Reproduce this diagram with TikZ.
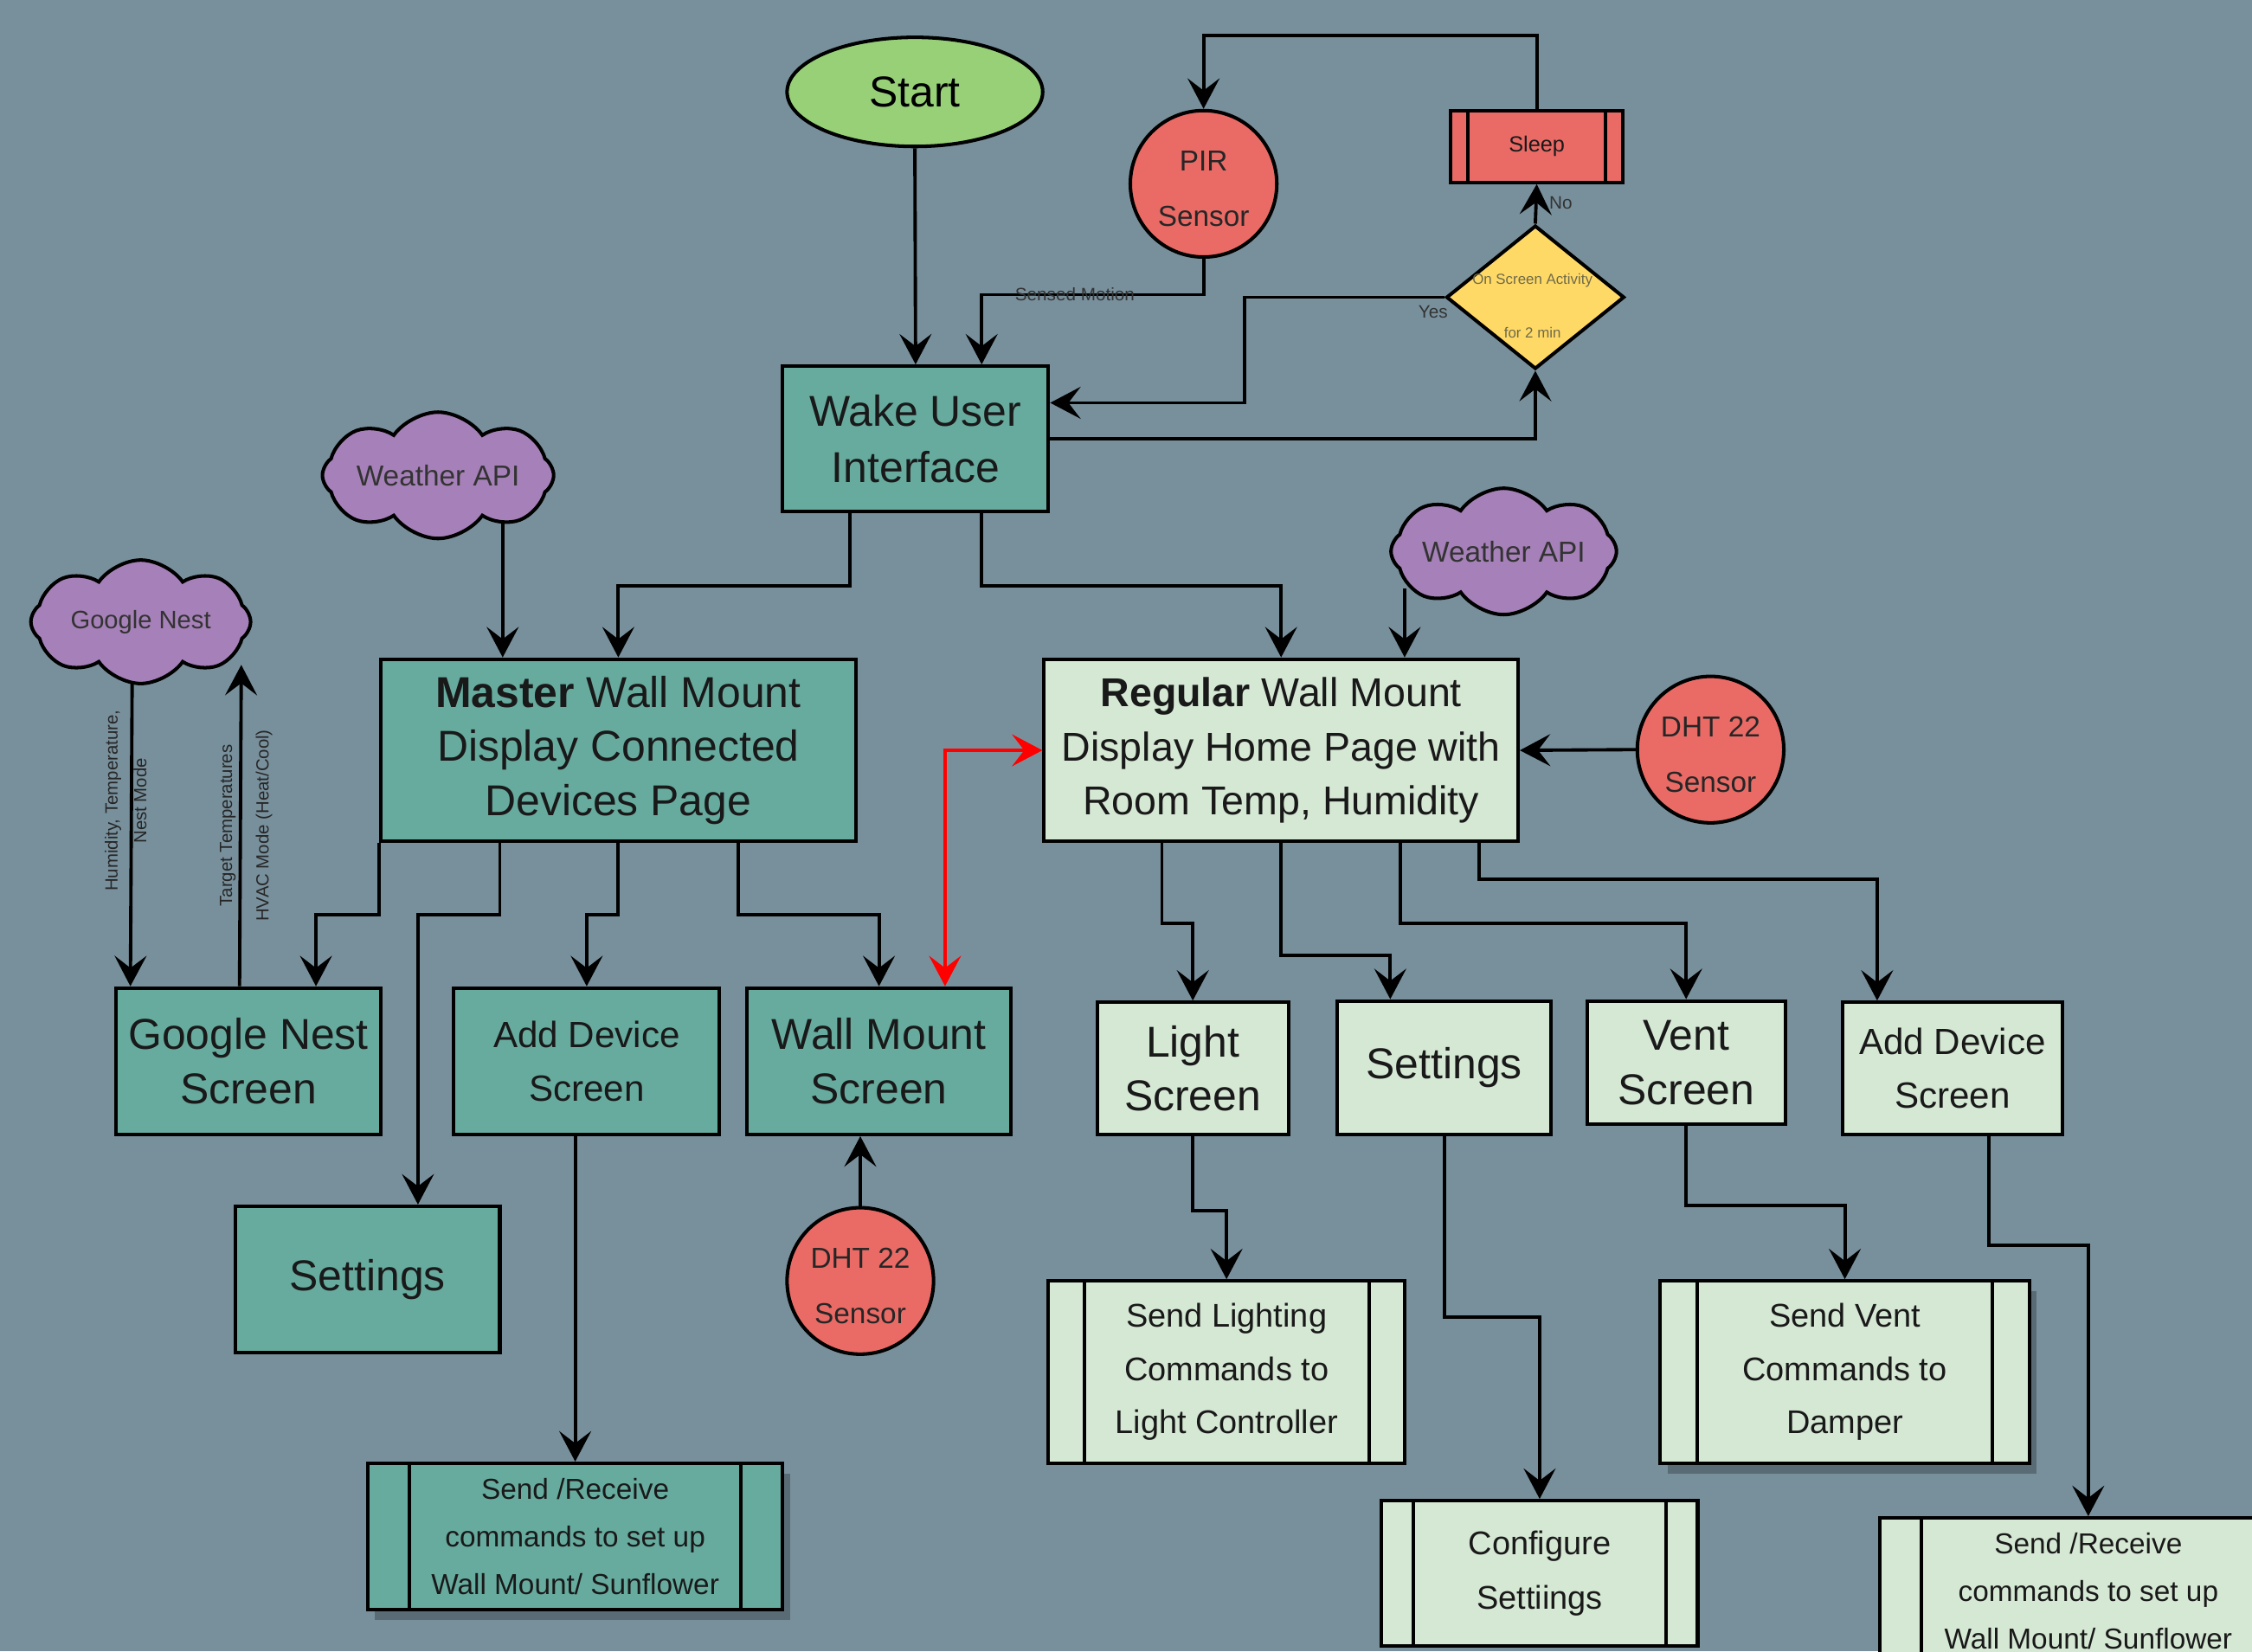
\documentclass[tikz,border=0pt]{standalone}
\usepackage{fontspec}
\setmainfont{Liberation Sans}
\usepackage{tikz}
\usetikzlibrary{shapes.geometric, shapes.symbols, arrows.meta, calc, shadows}
\definecolor{bgblue}{HTML}{78909C}
\definecolor{tealbox}{HTML}{67AB9F}
\definecolor{mintbox}{HTML}{D5E8D4}
\definecolor{redbox}{HTML}{EA6B66}
\definecolor{startgreen}{HTML}{97D077}
\definecolor{decyellow}{HTML}{FFD966}
\definecolor{cloudpurple}{HTML}{A680B8}
\definecolor{olivetxt}{HTML}{6E6A4A}
\def\pxu{0.016594cm}
\tikzstyle{block} = [rectangle, draw=black, line width=1.15pt, text=black!90, align=center, inner sep=0pt]
\tikzstyle{tealblock} = [block, fill=tealbox]
\tikzstyle{mintblock} = [block, fill=mintbox]
\tikzstyle{bigtxt} = [font=\fontsize{14.2}{17.8}\selectfont]
\tikzstyle{midtxt} = [font=\fontsize{12}{17.8}\selectfont]
\tikzstyle{cmdtxt} = [font=\fontsize{10.8}{17.5}\selectfont]
\tikzstyle{sendtxt} = [font=\fontsize{9.5}{15.6}\selectfont]
\tikzstyle{bars} = [path picture={
  \draw[line width=1.15pt] ($(path picture bounding box.north west)!0.1!(path picture bounding box.north east)$) -- ($(path picture bounding box.south west)!0.1!(path picture bounding box.south east)$)
    ($(path picture bounding box.north west)!0.9!(path picture bounding box.north east)$) -- ($(path picture bounding box.south west)!0.9!(path picture bounding box.south east)$);}]
\tikzstyle{boxshadow} = [drop shadow={shadow xshift=5*\pxu, shadow yshift=-7*\pxu, fill=black, opacity=0.25}]
\tikzstyle{sensor} = [circle, draw=black, line width=1.15pt, fill=redbox, minimum size=102*\pxu, inner sep=0pt, align=center, text=black!85, font=\fontsize{9.5}{18.2}\selectfont]
\tikzstyle{cloudy} = [cloud, cloud puffs=8, cloud puff arc=110, cloud ignores aspect, draw=black, line width=1.15pt, fill=cloudpurple, inner sep=0pt, text=black!80, font=\fontsize{9.5}{12}\selectfont]
\tikzstyle{arrow} = [line width=1.1pt, ->, >={Stealth[length=10pt, width=10.5pt, inset=4pt]}]
\tikzstyle{redarrow} = [arrow, <->, draw=red]
\tikzstyle{lbl} = [font=\fontsize{5.9}{7}\selectfont, text=black!80, inner sep=1pt]
\tikzstyle{vlbl} = [font=\fontsize{5.8}{9.5}\selectfont, text=black!85, rotate=90, align=center, inner sep=0pt]

\begin{document}
\begin{tikzpicture}[x=\pxu, y=-\pxu]
    \useasboundingbox (0,0) rectangle (1568,1150);
    \fill[bgblue] (0,0) rectangle (1568,1150);
    \clip (0,0) rectangle (1568,1150);

    % top: start, wake-up loop
    \node (start) [ellipse, draw=black, line width=1.15pt, fill=startgreen, minimum width=178*\pxu, minimum height=76*\pxu, inner sep=0pt, bigtxt] at (637,64) {Start};
    \node (pir) [sensor] at (838,128) {\rule{0pt}{9.7pt}PIR\\Sensor};
    \node (sleep) [block, fill=redbox, bars, minimum width=120*\pxu, minimum height=50*\pxu, font=\fontsize{7.2}{9}\selectfont] at (1070,102) {Sleep};
    \node (dec) [diamond, draw=black, line width=1.15pt, fill=decyellow, minimum width=124*\pxu, minimum height=100*\pxu, inner sep=0pt] at (1069,207) {};
    \node (dectxt) [align=center, text=olivetxt, inner sep=0pt, font=\fontsize{4.8}{17.9}\selectfont] at (1067,213) {On Screen Activity\\for 2 min};
    \node (wake) [tealblock, font=\fontsize{14.2}{18.4}\selectfont, minimum width=185*\pxu, minimum height=101*\pxu] at (637.5,305.5) {Wake User\\Interface};

    % clouds
    \node (wapil) [cloudy, minimum width=161*\pxu, minimum height=88*\pxu] at (305,331) {Weather API};
    \node (gncloud) [cloudy, minimum width=153*\pxu, minimum height=86*\pxu, font=\fontsize{8.3}{10}\selectfont] at (98,433) {Google Nest};
    \node (wapir) [cloudy, minimum width=157*\pxu, minimum height=88*\pxu] at (1047,384) {Weather API};

    % master side
    \node (master) [tealblock, bigtxt, minimum width=331*\pxu, minimum height=127*\pxu] at (430.5,522.5) {\textbf{Master} Wall Mount\\Display Connected\\Devices Page};
    \node (gnscreen) [tealblock, bigtxt, minimum width=184*\pxu, minimum height=102*\pxu] at (173,739) {Google Nest\\Screen};
    \node (addl) [tealblock, midtxt, minimum width=185*\pxu, minimum height=102*\pxu] at (408.5,739) {Add Device\\Screen};
    \node (wallms) [tealblock, bigtxt, minimum width=184*\pxu, minimum height=102*\pxu] at (612,739) {Wall Mount\\Screen};
    \node (setl) [tealblock, bigtxt, minimum width=184*\pxu, minimum height=102*\pxu] at (256,891) {Settings};
    \node (dhtb) [sensor] at (599,892) {\rule{0pt}{9.7pt}DHT 22\\Sensor};
    \node (sendl) [tealblock, bars, boxshadow, sendtxt, minimum width=289*\pxu, minimum height=102*\pxu] at (400.5,1070) {Send /Receive\\commands to set up\\Wall Mount/ Sunflower};

    % regular side
    \node (regular) [mintblock, font=\fontsize{13.25}{17.8}\selectfont, minimum width=330*\pxu, minimum height=127*\pxu] at (892,522.5) {\textbf{Regular} Wall Mount\\Display Home Page with\\Room Temp, Humidity};
    \node (dhtr) [sensor] at (1191,522) {\rule{0pt}{9.7pt}DHT 22\\Sensor};
    \node (light) [mintblock, bigtxt, minimum width=133*\pxu, minimum height=92*\pxu] at (830.5,744) {Light\\Screen};
    \node (setr) [mintblock, bigtxt, minimum width=149*\pxu, minimum height=93*\pxu] at (1005.5,743.5) {Settings};
    \node (vent) [mintblock, bigtxt, minimum width=138*\pxu, minimum height=86*\pxu] at (1174,740) {Vent\\Screen};
    \node (addr) [mintblock, midtxt, minimum width=153*\pxu, minimum height=92*\pxu] at (1359.5,744) {Add Device\\Screen};
    \node (sendlight) [mintblock, bars, cmdtxt, minimum width=248*\pxu, minimum height=127*\pxu] at (854,955.5) {Send Lighting\\Commands to\\Light Controller};
    \node (sendvent) [mintblock, bars, boxshadow, cmdtxt, minimum width=257*\pxu, minimum height=127*\pxu] at (1284.5,955.5) {Send Vent\\Commands to\\Damper};
    \node (config) [mintblock, bars, font=\fontsize{10.8}{17.9}\selectfont, minimum width=220*\pxu, minimum height=101*\pxu] at (1072,1095.5) {Configure\\Settiings};
    \node (sendr) [mintblock, bars, sendtxt, minimum width=290*\pxu, minimum height=102*\pxu] at (1454,1108) {Send /Receive\\commands to set up\\Wall Mount/ Sunflower};

    % wake-up loop
    \draw [arrow] (start.south) -- (wake.north);
    \draw [arrow] (pir.south) -- ++(0,25) -| node[lbl, pos=0.29] {Sensed Motion} ($(wake.north)+(46,0)$);
    \draw [arrow] (sleep.north) -- ++(0,-51) -| (pir.north);
    \draw [arrow] (dec.north) -- node[lbl, pos=0.53, anchor=west, xshift=6*\pxu] {No} (sleep.south);
    \draw [arrow] (dec.west) -- node[lbl, at start, xshift=-8*\pxu, yshift=-10*\pxu] {Yes} ++(-139,0) |- ($(wake.east)+(0,-25)$);
    \draw [arrow] (wake.east) -| (dec.south);
    \draw [arrow] ($(wake.south)+(-46,0)$) -- ++(0,51) -| (master.north);
    \draw [arrow] ($(wake.south)+(46,0)$) -- ++(0,51) -| (regular.north);
    \draw [arrow] ($(wapil.center)+(45,33)$) -- ($(master.north)+(-80.5,0)$);
    \draw [arrow] ($(wapir.center)+(-69,26)$) -- ($(regular.north)+(86,0)$);

    % master branches
    \draw [arrow] ($(gncloud.center)+(-6,42)$) -- node[vlbl, pos=0.39, yshift=4*\pxu] {Humidity, Temperature,\\Nest Mode} ($(gnscreen.north west)+(11,0)$);
    \draw [arrow] ($(gnscreen.north west)+(87,0)$) -- node[vlbl, pos=0.5, font=\fontsize{5.8}{12}\selectfont, yshift=-4*\pxu] {Target Temperatures\\HVAC Mode (Heat/Cool)} ($(gncloud.center)+(70,30)$);
    \draw [arrow] (master.south west) -- ++(0,50) -| ($(gnscreen.north)+(47,0)$);
    \draw [arrow] ($(master.south)+(-82.5,0)$) -- ++(0,50) -| ($(setl.north)+(35,0)$);
    \draw [arrow] (master.south) -- ++(0,50) -| (addl.north);
    \draw [arrow] ($(master.south)+(83.5,0)$) -- ++(0,50) -| (wallms.north);
    \draw [arrow] (addl.south -| sendl.north) -- (sendl.north);
    \draw [arrow] (dhtb.north) -- (wallms.south -| dhtb.north);
    \draw [redarrow] ($(wallms.north)+(46,0)$) |- (regular.west);

    % regular branches
    \draw [arrow] (dhtr.west) -- (regular.east);
    \draw [arrow] ($(regular.south)+(-83,0)$) -- ++(0,56) -| (light.north);
    \draw [arrow] (regular.south) -- ++(0,78) -| ($(setr.north)+(-37.5,0)$);
    \draw [arrow] ($(regular.south)+(83,0)$) -- ++(0,56) -| (vent.north);
    \draw [arrow] ($(regular.south)+(138,0)$) -- ++(0,25) -| ($(addr.north)+(-52.5,0)$);
    \draw [arrow] (light.south) -- ++(0,52) -| (sendlight.north);
    \draw [arrow] (setr.south) -- ++(0,126) -| (config.north);
    \draw [arrow] (vent.south) -- ++(0,55) -| (sendvent.north);
    \draw [arrow] ($(addr.south)+(25.5,0)$) -- ++(0,76) -| (sendr.north);
\end{tikzpicture}
\end{document}
